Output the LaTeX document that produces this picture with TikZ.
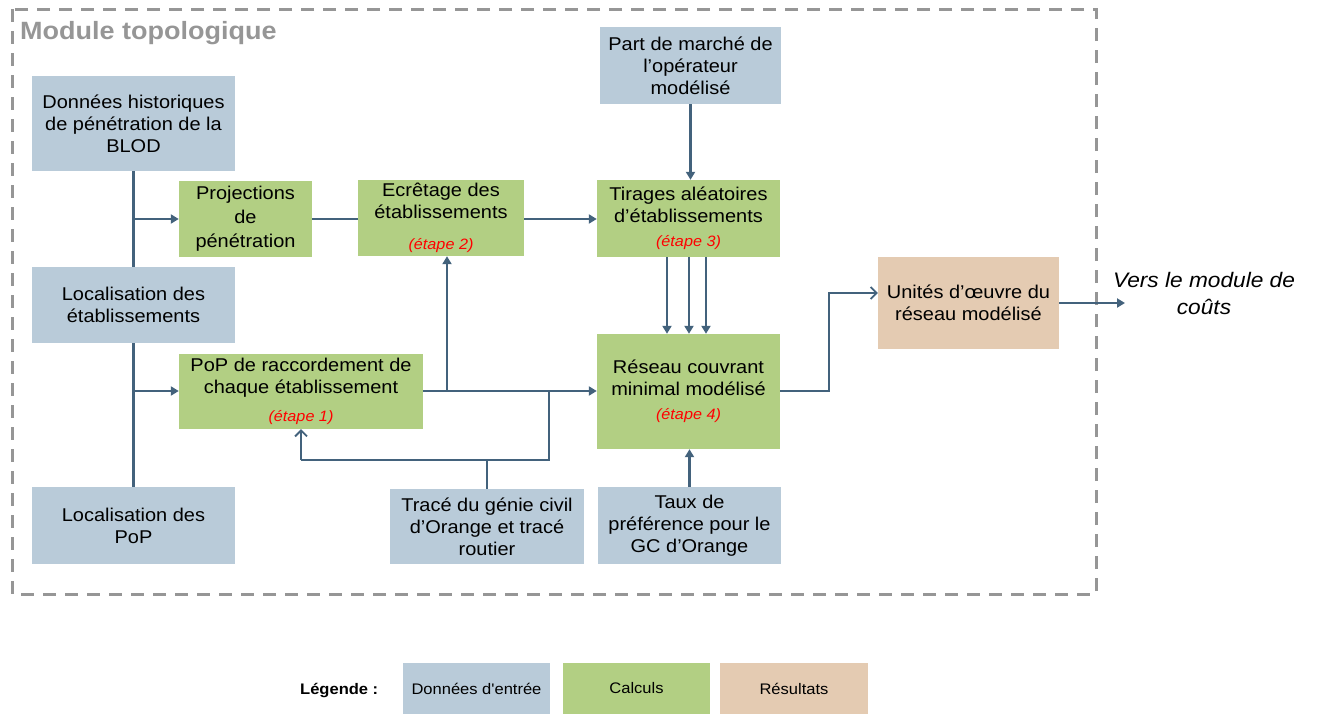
\documentclass[tikz,border=0pt]{standalone}
\usepackage{fontspec}
\setmainfont{Liberation Sans}[FakeStretch=1.08, Ligatures=TeXOff]
\usetikzlibrary{arrows.meta}
\definecolor{inblue}{RGB}{185,203,217}
\definecolor{calcgreen}{RGB}{178,207,131}
\definecolor{restan}{RGB}{228,203,178}
\definecolor{conn}{RGB}{67,98,124}
\definecolor{framegray}{RGB}{150,150,150}
\tikzset{
  x=1pt, y=-1pt,
  box/.style={inner sep=0pt, align=center, font=\fontsize{18.5}{22}\selectfont, text=black},
  inbox/.style={box, fill=inblue},
  calcbox/.style={box, fill=calcgreen},
  resbox/.style={box, fill=restan},
  legbox/.style={inner sep=0pt, align=center, font=\fontsize{15.3}{18}\selectfont, minimum height=51pt},
  line/.style={draw=conn, line width=2.4pt},
  arr/.style={line, -{Triangle[length=8pt,width=9pt]}},
  oarr/.style={line, -{Straight Barb[length=6pt,width=12pt,line width=1.8pt]}},
}
\newcommand{\etape}[1]{{\color{red}\itshape\fontsize{15}{17}\selectfont (étape #1)}}
\begin{document}
\begin{tikzpicture}
\useasboundingbox (0,0) rectangle (1317,715);
% frame
\draw[framegray, line width=3pt, dash pattern=on 13pt off 9pt] (12,9) rectangle (1096,594);
\node[anchor=west, font=\fontsize{25}{27}\selectfont\bfseries, text=framegray, inner sep=0pt] (title) at (20,33) {Module topologique};

% input boxes
\node[inbox, minimum width=203pt, minimum height=95pt] (A) at (133.5,123.5) {Données historiques\\de pénétration de la\\BLOD};
\node[inbox, minimum width=203pt, minimum height=76pt] (B) at (133.5,305) {Localisation des\\établissements};
\node[inbox, minimum width=203pt, minimum height=77pt] (C) at (133.5,525.5) {Localisation des\\PoP};
\node[inbox, minimum width=181pt, minimum height=77pt] (Part) at (690.5,65.5) {Part de marché de\\l’opérateur\\modélisé};
\node[inbox, minimum width=194pt, minimum height=75pt] (Tr) at (487,526.5) {Tracé du génie civil\\d’Orange et tracé\\routier};
\node[inbox, minimum width=183pt, minimum height=77pt] (Taux) at (689.5,525.5) {Taux de\\préférence pour le\\GC d’Orange};

% calc boxes
\node[calcbox, minimum width=133pt, minimum height=76pt, font=\fontsize{18.5}{24}\selectfont] (Proj) at (245.5,219) {Projections\\de\\pénétration};
\node[calcbox, minimum width=166pt, minimum height=76pt] (Ecr) at (441,218) {Ecrêtage des\\établissements\\[9pt]\etape{2}};
\node[calcbox, minimum width=183pt, minimum height=77pt] (Tir) at (688.5,218.5) {Tirages aléatoires\\d’établissements\\[2pt]\etape{3}};
\node[calcbox, minimum width=244pt, minimum height=75pt] (PoP) at (301,391.5) {PoP de raccordement de\\chaque établissement\\[6pt]\etape{1}};
\node[calcbox, minimum width=183pt, minimum height=115pt] (Res) at (688.5,391.5) {Réseau couvrant\\minimal modélisé\\[2pt]\etape{4}};

% result box
\node[resbox, minimum width=181pt, minimum height=92pt] (U) at (968.5,303) {Unités d’œuvre du\\réseau modélisé};
\node[align=center, font=\fontsize{21}{27}\selectfont\itshape, inner sep=0pt] (vers) at (1204,293) {Vers le module de\\coûts};

% connectors
\draw[line] (A.south) -- (B.north);
\draw[line] (B.south) -- (C.north);
\coordinate (j1) at (133.5,219);
\draw[arr] (j1) -- (Proj.west);
\draw[line] (Proj.east) -- (Proj.east -| Ecr.west);
\draw[arr] (Ecr.east |- Proj.east) -- (Proj.east -| Tir.west);
\draw[arr] (Part.south) -- (Part.south |- Tir.north);
\foreach \s in {-21.5,0.5,17.5} {
  \draw[arr] ([xshift=\s pt]Tir.south) -- ([xshift=\s pt]Res.north);
}
\coordinate (j2) at (133.5,391);
\draw[arr] (j2) -- (j2 -| PoP.west);
\draw[arr] (PoP.east |- j2) -- (j2 -| Res.west);
\coordinate (j3) at (447,391);
\draw[arr] (j3) -- (j3 |- Ecr.south);
\coordinate (t2) at (549,460);
\coordinate (t3) at (549,391);
\coordinate (t4) at (301,460);
\draw[line] (Tr.north) -- (Tr.north |- t2);
\draw[line] (t4) -- (t2) -- (t3);
\draw[oarr] (t4) -- (PoP.south);
\draw[arr] (Taux.north) -- (Taux.north |- Res.south);
\coordinate (u1) at (829,391);
\draw[oarr] (Res.east |- u1) -- (u1) |- ([yshift=10pt]U.west);
\coordinate (v) at (1125,303);
\draw[arr] (U.east) -- (v);

% legend
\node[anchor=west, font=\fontsize{15.3}{17}\selectfont\bfseries, inner sep=0pt] (leg) at (300,691) {Légende :};
\node[legbox, fill=inblue, minimum width=147pt] (L1) at (476.5,688.5) {Données d'entrée};
\node[legbox, fill=calcgreen, minimum width=147pt] (L2) at (636.5,688.5) {Calculs};
\node[legbox, fill=restan, minimum width=148pt] (L3) at (794,688.5) {Résultats};
\end{tikzpicture}
\end{document}
